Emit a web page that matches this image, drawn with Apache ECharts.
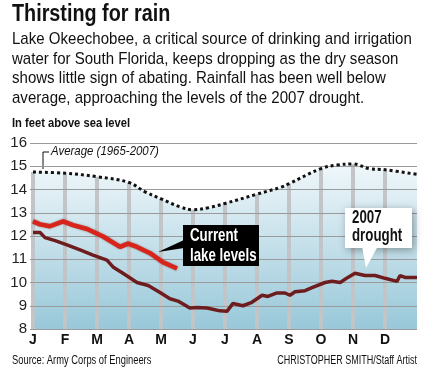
<!DOCTYPE html>
<html>
<head>
<meta charset="utf-8">
<script src="https://cdn.jsdelivr.net/npm/echarts@6/dist/echarts.min.js"></script>
<style>
  html, body { margin: 0; padding: 0; background: #fff; }
  #chart { width: 429px; height: 376px; }
</style>
</head>
<body>
<div id="chart"></div>
<script>
var FONT = '"Liberation Sans", Arial, sans-serif';

// x = months since Jan 1, y = feet above sea level
var monthLabels = ['J', 'F', 'M', 'A', 'M', 'J', 'J', 'A', 'S', 'O', 'N', 'D'];

var average = [
    [0, 14.75], [1, 14.7], [2, 14.55], [3, 14.3], [3.5, 13.9], [4, 13.6],
    [4.6, 13.25], [5, 13.13], [5.5, 13.22], [6, 13.4], [7, 13.8], [7.75, 14.1],
    [8, 14.25], [9, 14.9], [9.5, 15.05], [10, 15.1], [10.5, 14.9], [11, 14.85],
    [12, 14.65]
];

var current = [
    [0, 12.63], [0.22, 12.5], [0.53, 12.42], [0.94, 12.63], [1.25, 12.47],
    [1.69, 12.3], [2.19, 11.98], [2.72, 11.53], [2.97, 11.67], [3.25, 11.53],
    [3.66, 11.26], [4.06, 10.87], [4.5, 10.6]
];

var drought2007 = [
    [0, 12.15], [0.22, 12.15], [0.375, 11.93], [0.69, 11.8], [1.06, 11.62],
    [1.47, 11.4], [1.875, 11.18], [2.31, 10.96], [2.5, 10.67], [2.81, 10.4],
    [3.25, 10.0], [3.6, 9.87], [3.97, 9.57], [4.28, 9.3], [4.53, 9.2],
    [4.9, 8.9], [5.125, 8.92], [5.44, 8.9], [5.84, 8.78], [6.06, 8.76],
    [6.25, 9.1], [6.56, 9.0], [6.84, 9.15], [7.16, 9.45], [7.34, 9.4],
    [7.625, 9.55], [7.875, 9.55], [8.03, 9.45], [8.19, 9.6], [8.5, 9.65],
    [8.72, 9.78], [9.125, 10.0], [9.34, 10.05], [9.6, 10.0], [9.84, 10.22],
    [10.06, 10.4], [10.375, 10.3], [10.69, 10.3], [11.0, 10.18], [11.375, 10.05],
    [11.47, 10.3], [11.625, 10.22], [12, 10.22]
];

// month-start grid posts reach up to the average curve
var monthPosts = average.filter(function (d) { return d[0] % 1 === 0 && d[0] < 12; });

var subtitle = [
    'Lake Okeechobee, a critical source of drinking and irrigation',
    'water for South Florida, keeps dropping as the dry season',
    'shows little sign of abating. Rainfall has been well below',
    'average, approaching the levels of the 2007 drought.'
];

// narrow text: regular font squeezed horizontally
function label(x, y, text, font, sx, extra) {
    var el = {
        type: 'text', x: x, y: y, scaleX: sx,
        style: { text: text, font: font, fill: '#111', align: 'left', verticalAlign: 'top' }
    };
    for (var k in extra) {
        if (k === 'style') {
            for (var s in extra.style) el.style[s] = extra.style[s];
        } else {
            el[k] = extra[k];
        }
    }
    return el;
}

var graphics = [
    label(12, 3, 'Thirsting for rain', 'bold 23px ' + FONT, 0.86, {}),
    label(12, 117, 'In feet above sea level', 'bold 13px ' + FONT, 0.86, {}),
    label(12, 355, 'Source: Army Corps of Engineers', '12px ' + FONT, 0.78, {}),
    label(417, 355, 'CHRISTOPHER SMITH/Staff Artist', '12px ' + FONT, 0.75, { style: { align: 'right' } }),
    // average label
    { type: 'polyline', shape: { points: [[43, 169], [43, 152], [49, 152]] }, style: { stroke: '#111', lineWidth: 1, fill: null } },
    label(51, 145, 'Average (1965-2007)', 'italic 13px ' + FONT, 0.88, {}),
    // current lake levels callout
    { type: 'polygon', shape: { points: [[184, 240], [184, 248], [158, 252]] }, style: { fill: '#000' }, z: 10 },
    { type: 'rect', shape: { x: 183, y: 225, width: 76, height: 41 }, style: { fill: '#000' }, z: 10 },
    label(190, 226, 'Current\nlake levels', 'bold 19px ' + FONT, 0.7, { z: 11, style: { fill: '#fff', lineHeight: 20 } }),
    // 2007 drought callout
    { type: 'rect', shape: { x: 345, y: 208, width: 67, height: 40 },
      style: { fill: '#fff', shadowBlur: 8, shadowColor: 'rgba(0,0,0,0.35)', shadowOffsetX: 2, shadowOffsetY: 2 }, z: 10 },
    { type: 'polygon', shape: { points: [[362, 246], [378, 246], [366, 268]] }, style: { fill: '#fff' }, z: 10 },
    label(352, 209, '2007\ndrought', 'bold 19px ' + FONT, 0.7, { z: 11, style: { lineHeight: 18 } })
];

subtitle.forEach(function (line, i) {
    graphics.push(label(12, 31 + i * 19.5, line, '17px ' + FONT, 0.885, {}));
});

var chart = echarts.init(document.getElementById('chart'));
chart.setOption({
    animation: false,
    backgroundColor: '#fff',
    grid: { left: 33, right: 12, top: 143, bottom: 47 },
    xAxis: {
        type: 'value',
        min: 0,
        max: 12,
        interval: 1,
        axisLine: { show: false },
        axisTick: { show: false },
        splitLine: { show: false },
        axisLabel: {
            margin: 4,
            fontFamily: FONT,
            fontWeight: 'bold',
            fontSize: 14,
            color: '#111',
            formatter: function (v) { return monthLabels[v] || ''; }
        }
    },
    yAxis: {
        type: 'value',
        min: 8,
        max: 16,
        interval: 1,
        z: 2,
        axisLine: { show: false },
        axisTick: { show: true, length: 3, lineStyle: { color: '#9a9a9a' } },
        splitLine: { lineStyle: { color: '#9a9a9a', width: 1 } },
        axisLabel: { margin: 6, fontFamily: FONT, fontSize: 15, color: '#222' }
    },
    graphic: graphics,
    series: [{
        name: 'fill',
        type: 'line',
        data: average,
        smooth: 0.4,
        symbol: 'none',
        z: 1,
        lineStyle: { width: 0 },
        areaStyle: {
            origin: 'start',
            opacity: 1,
            color: new echarts.graphic.LinearGradient(0, 0, 0, 1, [
                { offset: 0, color: '#f0f7fa' },
                { offset: 1, color: '#98c8d9' }
            ])
        }
    }, {
        name: 'posts',
        type: 'bar',
        data: monthPosts,
        barWidth: 4,
        z: 1.5,
        itemStyle: { color: '#c2c5c7' }
    }, {
        name: 'Average (1965-2007)',
        type: 'line',
        data: average,
        smooth: 0.4,
        symbol: 'none',
        z: 3,
        lineStyle: { color: '#111', width: 3, type: [3, 3] }
    }, {
        name: '2007 drought',
        type: 'line',
        data: drought2007,
        symbol: 'none',
        z: 4,
        lineStyle: { color: '#6e1d1f', width: 3.5 }
    }, {
        name: 'Current lake levels',
        type: 'line',
        data: current,
        symbol: 'none',
        z: 5,
        lineStyle: { color: '#d9241b', width: 4.5, shadowColor: 'rgba(90,0,0,0.5)', shadowBlur: 2 }
    }]
});
</script>
</body>
</html>
